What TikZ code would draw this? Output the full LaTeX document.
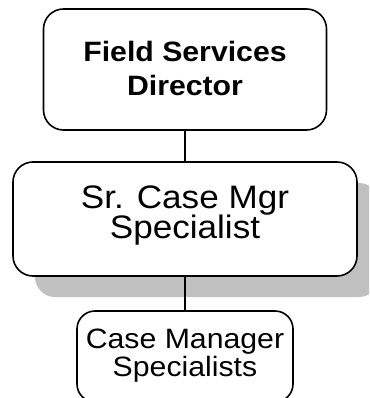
\documentclass[tikz,border=0pt]{standalone}
\usepackage{fontspec}
\usepackage{tikz}
\usetikzlibrary{shadows}

\newfontfamily\orgfont[FakeStretch=1.08]{Liberation Sans}
\definecolor{shadowgrey}{HTML}{C0C0C0}

\tikzset{
  orgbox/.style={draw,line width=1.6pt,rounded corners=20pt,fill=white,
    inner sep=0pt,align=center},
  orgline/.style={line width=1.6pt}
}

\begin{document}
\begin{tikzpicture}[x=1pt,y=-1pt]
      \useasboundingbox (0,0) rectangle (369,398);
      \clip (0,0) rectangle (369,398);

      \node[orgbox,minimum width=283pt,minimum height=121pt,
            text height=60pt,text depth=7.6pt,
            font=\orgfont\fontsize{28}{34}\selectfont\bfseries] (director) at (185,69.5)
            {Field Services\\ Director};

      \node[orgbox,minimum width=344pt,minimum height=114pt,
            text height=50pt,text depth=10.2pt,
            font=\orgfont\fontsize{32.5}{30.5}\selectfont,
            drop shadow={shadow xshift=22pt,shadow yshift=-21pt,
                         fill=shadowgrey,opacity=1}] (senior) at (185,219)
            {Sr. Case Mgr\\ Specialist};

      \node[orgbox,rounded corners=18pt,minimum width=216pt,minimum height=91pt,
            text height=50pt,text depth=9.6pt,
            font=\orgfont\fontsize{28}{28.4}\selectfont] (managers) at (185,356.5)
            {Case Manager\\ Specialists};

      \draw[orgline] (director) -- (senior);
      \draw[orgline] (senior) -- (managers);
    \end{tikzpicture}
\end{document}
